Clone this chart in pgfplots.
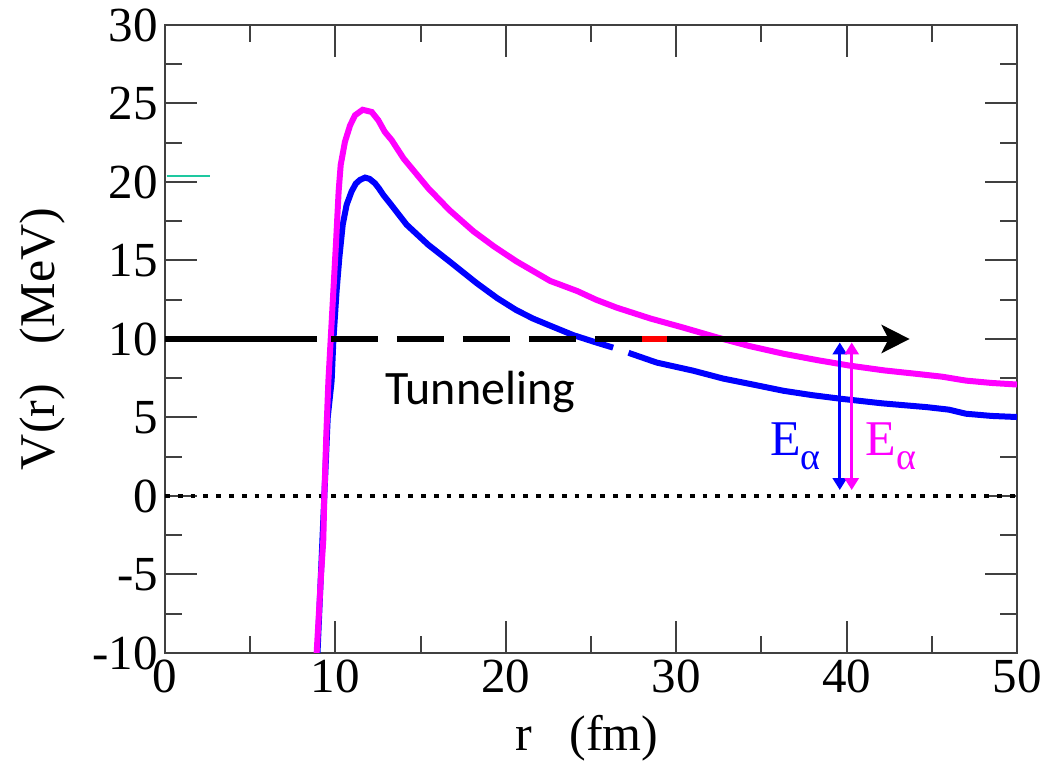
\documentclass[border=0pt]{standalone}
\usepackage{pgfplots}
\pgfplotsset{compat=1.18}
\usepackage{fontspec}
\setmainfont{Liberation Serif}
\newfontfamily\calibri{Carlito}
\usetikzlibrary{arrows.meta}
\definecolor{mag}{RGB}{255,0,255}
\definecolor{blu}{RGB}{0,0,255}
\definecolor{teal2}{RGB}{30,200,160}
\begin{document}
\begin{tikzpicture}
\begin{axis}[
  scale only axis, width=426pt, height=314pt,
  xmin=0, xmax=50, ymin=-10, ymax=30,
  xtick={0,10,20,30,40,50}, xticklabels={0,10,20,30,40,50},
  minor xtick={5,15,25,35,45},
  ytick={-10,-5,0,5,10,15,20,25,30}, yticklabels={-10,-5,0,5,10,15,20,25,30},
  minor ytick={-7.5,-2.5,2.5,7.5,12.5,17.5,22.5,27.5},
  tick align=inside, major tick length=16pt, minor tick length=8.5pt,
  axis line style={line width=1pt, color=black!75},
  every tick/.style={line width=1pt, color=black!75},
  ticklabel style={font=\fontsize{24.5}{24.5}\selectfont, text=black},
  xlabel={r\hspace{0.75em}(fm)},
  ylabel={V(r)\hspace{0.8em}(MeV)},
  xlabel style={at={(axis description cs:0.495,-0.1545)}, anchor=base, font=\fontsize{25}{25}\selectfont},
  ylabel style={at={(axis description cs:-0.144,0.5)}, anchor=center, font=\fontsize{25}{25}\selectfont},
  clip=true,
]
% zero line
\addplot[black, line width=2.4pt, dash pattern=on 2.4pt off 4pt] coordinates {(0,0)(50,0)};
% blue curve (part 1)
\addplot[blu, line width=3pt] coordinates {
 (8.95,-10)(9.15,-5)(9.35,0)(9.55,5)(9.78,7.35)(9.88,9.89)(10.07,13.05)(10.23,15.16)
 (10.43,17.28)(10.66,18.55)(10.95,19.4)(11.2,19.9)(11.44,20.13)(11.74,20.28)(12.0,20.2)
 (12.32,19.92)(12.55,19.6)(12.81,19.18)(13.2,18.65)(14.18,17.28)(15.45,16.0)(16.8,14.85)
 (18.3,13.55)(19.5,12.6)(20.6,11.85)(21.6,11.3)(22.6,10.85)(23.95,10.25)(25.3,9.78)(26.3,9.45)};
% blue curve (part 2)
\addplot[blu, line width=3pt] coordinates {
 (27.2,9.12)(28.85,8.5)(31.0,7.98)(32.75,7.48)(34.5,7.1)(36.3,6.7)(38.0,6.42)(39.6,6.2)
 (42.1,5.9)(44.7,5.66)(46.0,5.5)(47.0,5.24)(48.5,5.1)(50,5.03)};
% magenta curve
\addplot[mag, line width=3pt] coordinates {
 (8.9,-10)(9.16,-5)(9.29,-2.79)(9.35,0)(9.47,4)(9.59,7.35)(9.72,9.89)(9.88,13.05)
 (10.04,16.2)(10.19,19.4)(10.31,21.08)(10.56,22.56)(10.86,23.6)(11.15,24.25)(11.6,24.6)
 (12.13,24.46)(12.52,23.93)(12.9,23.19)(13.3,22.67)(14.0,21.5)(15.45,19.6)(16.7,18.2)
 (18.1,16.86)(19.3,15.9)(20.6,14.96)(22.6,13.7)(24.2,13.05)(25.3,12.5)(26.5,12.0)
 (28.5,11.3)(30.4,10.73)(32.4,10.1)(34.3,9.55)(36.3,9.06)(38.3,8.65)(40.2,8.3)
 (42.2,8.0)(44.1,7.78)(45.6,7.6)(47.0,7.35)(48.5,7.2)(50,7.1)};
% teal mark
\addplot[teal2, line width=1pt] coordinates {(0.1,20.4)(2.64,20.4)};
% black tunneling line
\addplot[black, line width=3.2pt] coordinates {(0,10)(8.9,10)};
\addplot[black, line width=3.2pt, dash pattern=on 23.5pt off 9.5pt] coordinates {(9.74,10)(27.99,10)};
\addplot[red, line width=3.2pt] coordinates {(27.99,10)(29.46,10)};
\addplot[black, line width=3.2pt, -{Stealth[length=14pt,width=14pt,inset=3.5pt]}] coordinates {(29.46,10)(43.7,10)};
% E alpha arrows
\addplot[blu, line width=1.6pt, {Triangle[length=6pt,width=7pt]}-{Triangle[length=6pt,width=7pt]}] coordinates {(39.6,9.78)(39.6,0.38)};
\addplot[mag, line width=1.6pt, {Triangle[length=6pt,width=7pt]}-{Triangle[length=6pt,width=7pt]}] coordinates {(40.3,9.78)(40.3,0.38)};
\node[anchor=base west, text=blu, inner sep=0pt] at (axis cs:35.5,2.57)
  {\fontsize{25}{25}\selectfont E\raisebox{-0.27em}{\fontsize{19}{19}\selectfont α}};
\node[anchor=base west, text=mag, inner sep=0pt] at (axis cs:41.1,2.57)
  {\fontsize{25}{25}\selectfont E\raisebox{-0.27em}{\fontsize{19}{19}\selectfont α}};
\node[anchor=base, inner sep=0pt] at (axis cs:18.5,5.85) {\calibri\fontsize{24}{24}\selectfont Tunneling};
\end{axis}
\pgfresetboundingbox
\path ([xshift=-82.5pt,yshift=-57.5pt]current axis.south west) rectangle ([xshift=14.5pt,yshift=12.5pt]current axis.north east);
\end{tikzpicture}
\end{document}
